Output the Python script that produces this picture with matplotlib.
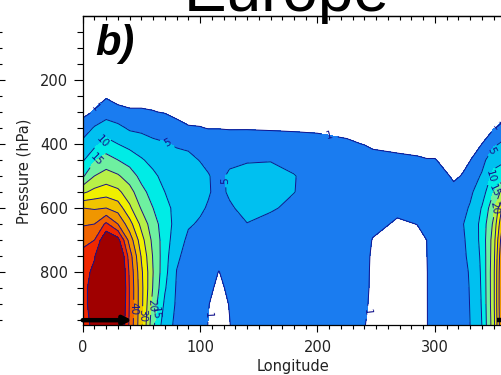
import numpy as np
import matplotlib
matplotlib.use('Agg')
import matplotlib.pyplot as plt

# grid: longitude (deg) x pressure (hPa)
lon = [0, 10, 20, 30, 40, 50, 60, 70, 80, 90, 100, 107, 116, 125, 140, 160, 180,
       200, 225, 240, 247, 268, 285, 293, 300, 316, 324, 330, 340, 350, 360]
pres = [200, 250, 300, 350, 400, 450, 500, 550, 600, 650, 700, 750, 800, 850, 900, 965]

speed = [
    [0] * 31,
    [0, 0, 0.6] + [0] * 28,
    [0, 1.25, 3.0, 1.8, 1.3, 1.3, 1.1, 0.8, 0.2] + [0] * 22,
    [2.6, 5.4, 7.2, 6.2, 4.3, 4, 3.5, 3.0, 2.0, 1.2, 1.1, 0.9, 0.9, 0.8, 0.8, 0.7, 0.6, 0.5, 0.2,
     0, 0, 0, 0, 0, 0, 0, 0, 0, 0, 0.7, 2.6],
    [6.1, 8.5, 11.8, 10, 8.3, 7, 5.8, 5.3, 4.6, 4.5, 3, 2.5, 2.5, 2.5, 2.6, 2.5, 2.3, 2.0, 1.4,
     0.9, 0.5, 0.2, 0.1, 0, 0, 0, 0, 0, 1.0, 4.2, 6.1],
    [9.3, 14.5, 17, 15, 13, 10.5, 8.5, 7, 6.2, 5.6, 4.9, 4.2, 3.5, 4.2, 4.6, 4.8, 4.3, 3.5, 3,
     2.5, 2.0, 1.6, 1.3, 1.1, 1.1, 0, 0.3, 0.9, 3.5, 8, 9.3],
    [14.2, 20, 22.1, 20.6, 17.5, 13.5, 11, 8.5, 7.2, 6.5, 5.8, 5.2, 4, 5.6, 6.6, 6.5, 5.1, 4, 3.5,
     3.2, 3, 2.6, 2.6, 2.5, 2.8, 0.5, 1.2, 2.5, 5.5, 11.5, 14.2],
    [24, 26.5, 27.7, 26.2, 22, 16.5, 13, 10, 8, 7, 6, 5.3, 4, 5.5, 6.8, 6.6, 5.05, 4, 3.5,
     3.3, 3.1, 2.7, 2.8, 2.9, 3.2, 1.9, 2.5, 4.2, 7.5, 15, 24],
    [35, 34.5, 35, 32.8, 26, 19.5, 15, 11.5, 8.5, 6.8, 5.5, 4.7, 3.8, 4.5, 6.2, 5.3, 4.4, 3.8, 3.4,
     3.2, 2.9, 1.8, 2.4, 2.8, 3.3, 3, 4, 5.4, 10.3, 18.5, 35],
    [39.5, 40, 46, 40, 32, 23.5, 17, 12.5, 8.2, 5.4, 4.6, 3.8, 3.5, 3.6, 4.9, 4.2, 4, 3.6, 3.3,
     3.0, 2.1, 0.5, 1.05, 2.2, 3.3, 3.5, 4.9, 6.2, 11.5, 21, 39.5],
    [43.5, 45, 55, 52, 38, 27, 18.5, 12.5, 7, 4.2, 3.5, 3.2, 3, 3.2, 4, 3.8, 3.7, 3.5, 3.2,
     2.7, 0.8, 0, 0.2, 1.0, 3.3, 3.6, 4.6, 6, 11.5, 22.5, 43.5],
    [46.5, 49.5, 60, 58, 42.5, 29.5, 19.5, 12, 5.6, 3.8, 3.2, 2.8, 2.2, 2.9, 3.6, 3.5, 3.5, 3.4, 3.1,
     2.4, 0.3, 0, 0, 0.9, 3.3, 3.7, 4.5, 5.6, 11, 23, 46.5],
    [47.5, 51.5, 62, 60, 44, 31, 20, 11.5, 4.9, 3.5, 3, 2.4, 0.9, 2.4, 3.4, 3.4, 3.4, 3.3, 3.0,
     2.2, 0.2, 0, 0, 0.8, 3.2, 3.8, 4.4, 5.2, 10.7, 23.5, 47.5],
    [48, 53, 63, 61, 44.5, 31.5, 19.5, 10.5, 4.5, 3.3, 2.8, 1.8, 0.2, 1.7, 3.3, 3.3, 3.3, 3.2, 2.8,
     2.0, 0.2, 0, 0, 0.8, 3.2, 3.9, 4.4, 5.1, 10.5, 23.5, 48],
    [48, 53, 63, 60, 44.5, 31.5, 18, 9, 4.3, 3.2, 2.6, 1.1, 0, 1.1, 3.2, 3.2, 3.2, 3.1, 2.5,
     1.6, 0.2, 0, 0, 0.8, 3.1, 3.9, 4.4, 5.05, 10.3, 23.5, 48],
    [47, 52, 62, 58, 44, 31, 16, 7, 4, 3, 2.5, 0.9, 0, 0.9, 3.1, 3.1, 3.1, 3.0, 2.2,
     1.1, 0.3, 0, 0, 0.8, 3.0, 3.9, 4.4, 5.0, 10, 23, 47],
]

levels = [1, 5, 10, 15, 20, 25, 30, 35, 40, 45, 50, 70]
band_colors = ['#1a7cf0', '#00c0f0', '#00ece6', '#6ef0a0', '#b8f048', '#f0f000',
               '#f0c400', '#f09600', '#f06400', '#f02800', '#a00000']

# where the contour labels sit
label_lon = [11, 211, 349, 74, 120, 352, 17, 13, 347, 349, 351, 107, 241, 45, 52, 58, 64]
label_p = [288, 366, 338, 388, 515, 425, 392, 455, 500, 545, 600, 935, 925, 915, 935, 905, 930]

# surface arrow
arrow_lon = [0, 42]
arrow_p = 950

Z = np.array(speed, dtype=float)
line_color = '#14148c'

fig = plt.figure(figsize=(5.01, 3.75), dpi=100)
ax = fig.add_axes([82.7 / 501, 50 / 375, 422.6 / 501, 309.3 / 375])

ax.contourf(lon, pres, Z, levels=levels, colors=band_colors)
cs = ax.contour(lon, pres, Z, levels=levels[:-1], colors=line_color, linewidths=0.7)
ax.clabel(cs, fmt='%d', fontsize=7.5, colors=line_color, inline=True,
          manual=list(zip(label_lon, label_p)))

ax.annotate('', xy=(arrow_lon[1], arrow_p), xytext=(arrow_lon[0], arrow_p),
            arrowprops=dict(arrowstyle='-|>', lw=3.2, color='k', mutation_scale=12,
                            shrinkA=0, shrinkB=0))
ax.plot([353, 360], [arrow_p, arrow_p], color='k', lw=3.2, solid_capstyle='butt')

ax.set_xlim(0, 360)
ax.set_ylim(965, 0)

ax.set_xticks([0, 100, 200, 300])
ax.set_xticks(np.arange(0, 361, 10), minor=True)
ax.set_yticks([200, 400, 600, 800])
ax.set_yticks(np.arange(50, 951, 50), minor=True)
ax.tick_params(axis='x', which='major', direction='out', length=5, width=0.8,
               labelsize=10.5, pad=6, top=False, labelcolor='#222222')
ax.tick_params(axis='x', which='minor', direction='out', length=3, width=0.8, top=False)
ax.tick_params(axis='y', which='major', direction='out', length=6.5, width=0.8,
               labelsize=10.5, pad=4, right=False, labelcolor='#222222')
ax.tick_params(axis='y', which='minor', direction='out', length=4.3, width=0.8, right=False)
ax.spines['right'].set_visible(False)
for s in ['left', 'top', 'bottom']:
    ax.spines[s].set_linewidth(0.9)

top = ax.secondary_xaxis('top')
top.set_xticks([0, 100, 200, 300])
top.set_xticks(np.arange(0, 361, 10), minor=True)
top.tick_params(which='major', direction='in', length=5, width=0.8, labeltop=False)
top.tick_params(which='minor', direction='in', length=3, width=0.8)
top.spines['top'].set_linewidth(0.9)

# right axis of the neighbouring panel, cut off at the left edge
nb = fig.add_axes([-0.3, 50 / 375, 0.3 - 1 / 501, 309.3 / 375])
nb.set_ylim(965, 0)
nb.set_xticks([])
nb.set_yticks([200, 400, 600, 800])
nb.set_yticks(np.arange(50, 951, 50), minor=True)
nb.yaxis.tick_right()
nb.tick_params(axis='y', which='major', direction='out', length=4.3, width=0.8, labelright=False)
nb.tick_params(axis='y', which='minor', direction='out', length=2.5, width=0.8)
for s in nb.spines.values():
    s.set_visible(False)
nb.patch.set_visible(False)

fig.text(287 / 501, 1 - 11 / 375, 'Europe', ha='center', va='baseline',
         fontsize=46, family='Liberation Sans')
ax.text(0.029, 0.873, 'b)', transform=ax.transAxes, fontsize=30, fontweight='bold',
        fontstyle='italic', family='Liberation Sans', va='baseline')
fig.text(24 / 501, 1 - 171 / 375, 'Pressure (hPa)', rotation=90, ha='center',
         va='center', fontsize=10.5, color='#222222')
fig.text(293 / 501, 1 - 367 / 375, 'Longitude', ha='center', va='center',
         fontsize=10.5, color='#222222')

fig.savefig('out.png', dpi=100)
